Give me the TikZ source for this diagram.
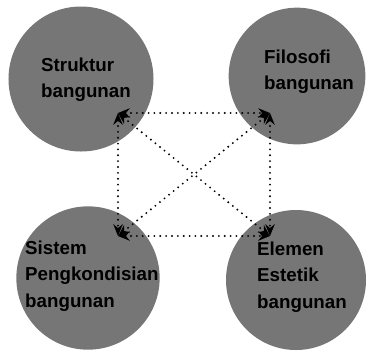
\documentclass[tikz,border=0pt]{standalone}
\usepackage{fontspec}
\setmainfont{Liberation Sans}[BoldFont={Liberation Sans Bold}]
\usetikzlibrary{arrows.meta, positioning}
\definecolor{speckle}{RGB}{118,118,118}

\begin{document}
\begin{tikzpicture}[
    x=0.03cm, y=-0.03cm,
    blob/.style={circle, fill=speckle, inner sep=0pt},
    blobtext/.style={align=left, anchor=west, inner sep=0pt,
                  font=\fontsize{16}{22.5}\selectfont\bfseries, text=black},
    link/.style={{Stealth[length=10pt,width=8pt]}-{Stealth[length=10pt,width=8pt]},
                 line width=1.8pt, dash pattern=on 0pt off 5pt, line cap=round, black}
]
\useasboundingbox (0,0) rectangle (368,351);
\node[blob, minimum size=4.35cm] (struktur) at (81,79) {};
\node[blob, minimum size=4.1cm] (filosofi) at (297,76) {};
\node[blob, minimum size=4.3cm] (sistem) at (88,278) {};
\node[blob, minimum size=4.2cm] (elemen) at (296,280) {};
\coordinate (cTL) at (118,113);
\coordinate (cTR) at (270,113);
\coordinate (cBL) at (118,236);
\coordinate (cBR) at (270,236);
\draw[link] (cTL) -- (cTR);
\draw[link] (cBL) -- (cBR);
\draw[link] (cTL) -- (cBL);
\draw[link] (cTR) -- (cBR);
\draw[link] (cTL) -- (cBR);
\draw[link] (cBL) -- (cTR);
\node[blobtext] (tStruktur) at (41,80) {Struktur\\bangunan};
\node[blobtext] (tFilosofi) at (264,72) {Filosofi\\bangunan};
\node[blobtext] (tSistem) at (25,276) {Sistem\\Pengkondisian\\bangunan};
\node[blobtext] (tElemen) at (257,277) {Elemen\\Estetik\\bangunan};
\end{tikzpicture}
\end{document}
